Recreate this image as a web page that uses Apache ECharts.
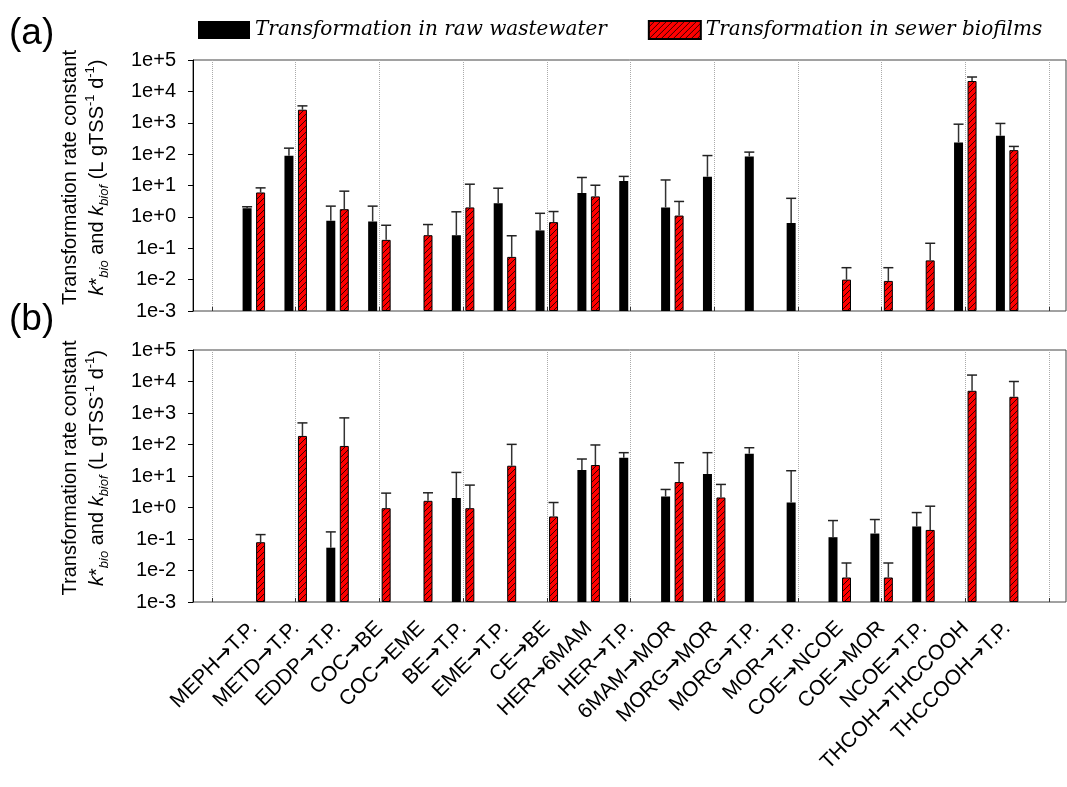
<!DOCTYPE html>
<html>
<head>
<meta charset="utf-8">
<script src="https://cdn.jsdelivr.net/npm/echarts@6/dist/echarts.min.js"></script>
<style>
  html, body { margin: 0; padding: 0; background: #fff; }
  #chart { width: 1067px; height: 787px; }
</style>
</head>
<body>
<div id="chart"></div>
<script>
const categories = ['MEPH→T.P.', 'METD→T.P.', 'EDDP→T.P.', 'COC→BE', 'COC→EME', 'BE→T.P.', 'EME→T.P.', 'CE→BE',
  'HER→6MAM', 'HER→T.P.', '6MAM→MOR', 'MORG→MOR', 'MORG→T.P.', 'MOR→T.P.', 'COE→NCOE', 'COE→MOR',
  'NCOE→T.P.', 'THCOH→THCCOOH', 'THCCOOH→T.P.']
const tickLabels = ['1e-3', '1e-2', '1e-1', '1e+0', '1e+1', '1e+2', '1e+3', '1e+4', '1e+5']
const rawName = 'Transformation in raw wastewater'
const bioName = 'Transformation in sewer biofilms'

// panel (a)
const rawA = [1.9, 88, 0.75, 0.71, null, 0.26, 2.7, 0.37, 5.8, 14, 2.0, 19, 84, 0.64, null, null, null, 236, 385]
const rawAUpper = [2.1, 155, 2.2, 2.2, null, 1.45, 8.2, 1.3, 18, 19.5, 15, 90, 116, 3.9, null, null, null, 900, 950]
const bioA = [6.0, 2600, 1.76, 0.185, 0.26, 2.0, 0.053, 0.68, 4.5, null, 1.1, null, null, null, 0.010, 0.0091, 0.041, 21400, 134]
const bioAUpper = [8.4, 3450, 6.6, 0.54, 0.57, 11, 0.25, 1.48, 10.2, null, 3.1, null, null, null, 0.024, 0.024, 0.144, 28700, 176]

// panel (b)
const rawB = [null, null, 0.053, null, null, 2.0, null, null, 15.5, 38, 2.24, 11.5, 51, 1.44, 0.114, 0.149, 0.25, null, null]
const rawBUpper = [null, null, 0.168, null, null, 13, null, null, 34.6, 55, 3.74, 55, 79, 14.7, 0.385, 0.415, 0.69, null, null]
const bioB = [0.079, 187, 90, 0.95, 1.63, 0.95, 21.2, 0.52, 22.3, null, 6.4, 2.08, null, null, 0.006, 0.006, 0.194, 5070, 3270]
const bioBUpper = [0.138, 485, 700, 2.86, 2.93, 5.14, 101, 1.44, 96.6, null, 26.4, 5.4, null, null, 0.0173, 0.0173, 1.1, 16000, 10000]

const font = 'Liberation Sans'

function hatch() {
  const c = document.createElement('canvas')
  c.width = 6
  c.height = 6
  const g = c.getContext('2d')
  g.fillStyle = '#ff0000'
  g.fillRect(0, 0, 6, 6)
  g.strokeStyle = '#300'
  g.lineWidth = 1
  for (const k of [-6, 0, 6]) {
    g.beginPath()
    g.moveTo(k, 6)
    g.lineTo(k + 6, 0)
    g.stroke()
  }
  return c
}
const hatchFill = { image: hatch(), repeat: 'repeat' }

function barSeries(name, values, xi, yi, isBio) {
  return {
    name: name,
    type: 'bar',
    xAxisIndex: xi,
    yAxisIndex: yi,
    barWidth: 9,
    barGap: '50%',
    itemStyle: isBio
      ? { color: hatchFill, borderColor: '#000', borderWidth: 1 }
      : { color: '#000' },
    data: values.map((v, i) => [i, v == null ? '-' : v])
  }
}

function errorSeries(values, upper, offset, xi, yi) {
  const data = []
  values.forEach((v, i) => {
    if (v != null && upper[i] != null) data.push([i, v, upper[i]])
  })
  return {
    type: 'custom',
    xAxisIndex: xi,
    yAxisIndex: yi,
    silent: true,
    z: 3,
    encode: { x: 0, y: [1, 2] },
    renderItem: (params, api) => {
      const lo = api.coord([api.value(0), api.value(1)])
      const hi = api.coord([api.value(0), api.value(2)])
      const x = lo[0] + offset
      return {
        type: 'group',
        children: [
          { type: 'line', shape: { x1: x, y1: lo[1], x2: x, y2: hi[1] }, style: { stroke: '#333', lineWidth: 1.5 } },
          { type: 'line', shape: { x1: x - 5, y1: hi[1], x2: x + 5, y2: hi[1] }, style: { stroke: '#222', lineWidth: 1.5 } }
        ]
      }
    },
    data: data
  }
}

const yName = 'Transformation rate constant\n{it|k}*{sub|bio} and {it|k}{sub|biof} (L gTSS{sup|-1} d{sup|-1})'

function outerY(gridIndex) {
  return {
    type: 'log',
    gridIndex: gridIndex,
    min: 0.001,
    max: 100000,
    logBase: 10,
    axisLine: { show: true, lineStyle: { color: '#000', width: 1 } },
    axisTick: { show: true, length: 5, lineStyle: { color: '#000' } },
    splitLine: { show: false },
    axisLabel: {
      margin: 17,
      fontSize: 20,
      fontFamily: font,
      color: '#000',
      formatter: v => tickLabels[Math.round(Math.log10(v)) + 3]
    },
    name: yName,
    nameLocation: 'middle',
    nameRotate: 90,
    nameGap: 82,
    nameTextStyle: {
      fontSize: 20,
      fontFamily: font,
      color: '#000',
      lineHeight: 27,
      padding: [0, 0, 0, 16],
      rich: {
        it: { fontStyle: 'italic', fontSize: 20, fontFamily: font },
        sub: { fontStyle: 'italic', fontSize: 13, fontFamily: font, verticalAlign: 'bottom' },
        sup: { fontSize: 13, fontFamily: font, verticalAlign: 'top' }
      }
    }
  }
}

function innerY(gridIndex) {
  return {
    type: 'log',
    gridIndex: gridIndex,
    min: 0.001,
    max: 100000,
    logBase: 10,
    startValue: 0.001,
    show: false,
    splitLine: { show: false }
  }
}

function outerX(gridIndex) {
  return { type: 'value', gridIndex: gridIndex, min: 0, max: 1, show: false }
}

function innerX(gridIndex) {
  return {
    type: 'value',
    gridIndex: gridIndex,
    position: 'bottom',
    min: -1,
    max: 19,
    interval: 2,
    axisLine: { show: false },
    axisTick: { show: true, inside: true, length: 4, lineStyle: { color: '#333' } },
    axisLabel: { show: false },
    splitLine: { show: true, lineStyle: { type: 'dotted', color: '#aaa', width: 1 } }
  }
}

const chart = echarts.init(document.getElementById('chart'))
chart.setOption({
  animation: false,
  title: [
    { text: '(a)', left: 4, top: 10, textStyle: { fontSize: 37, fontWeight: 'normal', fontFamily: font, color: '#000' } },
    { text: '(b)', left: 4, top: 296, textStyle: { fontSize: 37, fontWeight: 'normal', fontFamily: font, color: '#000' } }
  ],
  legend: {
    data: [rawName, bioName],
    left: 193,
    top: 15,
    icon: 'rect',
    itemWidth: 52,
    itemHeight: 18,
    itemGap: 41,
    textStyle: { fontFamily: 'DejaVu Serif', fontStyle: 'italic', fontSize: 20, color: '#000' }
  },
  grid: [
    { left: 193, right: 1, top: 60, height: 251, show: true, borderColor: '#444', borderWidth: 1, outerBoundsMode: 'none' },
    { left: 212, width: 837, top: 60, height: 251, outerBoundsMode: 'none' },
    { left: 193, right: 1, top: 350, height: 252, show: true, borderColor: '#444', borderWidth: 1, outerBoundsMode: 'none' },
    { left: 212, width: 837, top: 350, height: 252, outerBoundsMode: 'none' }
  ],
  xAxis: [
    outerX(0),
    innerX(1),
    outerX(2),
    innerX(3),
    {
      type: 'value',
      gridIndex: 3,
      position: 'bottom',
      min: -1,
      max: 19,
      interval: 1,
      axisLine: { show: false },
      axisTick: { show: false },
      splitLine: { show: false },
      axisLabel: {
        rotate: 45,
        margin: 23,
        fontSize: 21,
        fontFamily: font,
        color: '#000',
        formatter: v => (categories[v] || '').replace('→', '{a|→}'),
        rich: {
          a: { fontFamily: 'DejaVu Sans', fontSize: 22, color: '#000' }
        }
      }
    }
  ],
  yAxis: [outerY(0), innerY(1), outerY(2), innerY(3)],
  series: [
    barSeries(rawName, rawA, 1, 1, false),
    barSeries(bioName, bioA, 1, 1, true),
    errorSeries(rawA, rawAUpper, -6.75, 1, 1),
    errorSeries(bioA, bioAUpper, 6.75, 1, 1),
    barSeries(rawName, rawB, 3, 3, false),
    barSeries(bioName, bioB, 3, 3, true),
    errorSeries(rawB, rawBUpper, -6.75, 3, 3),
    errorSeries(bioB, bioBUpper, 6.75, 3, 3)
  ]
})
</script>
</body>
</html>
